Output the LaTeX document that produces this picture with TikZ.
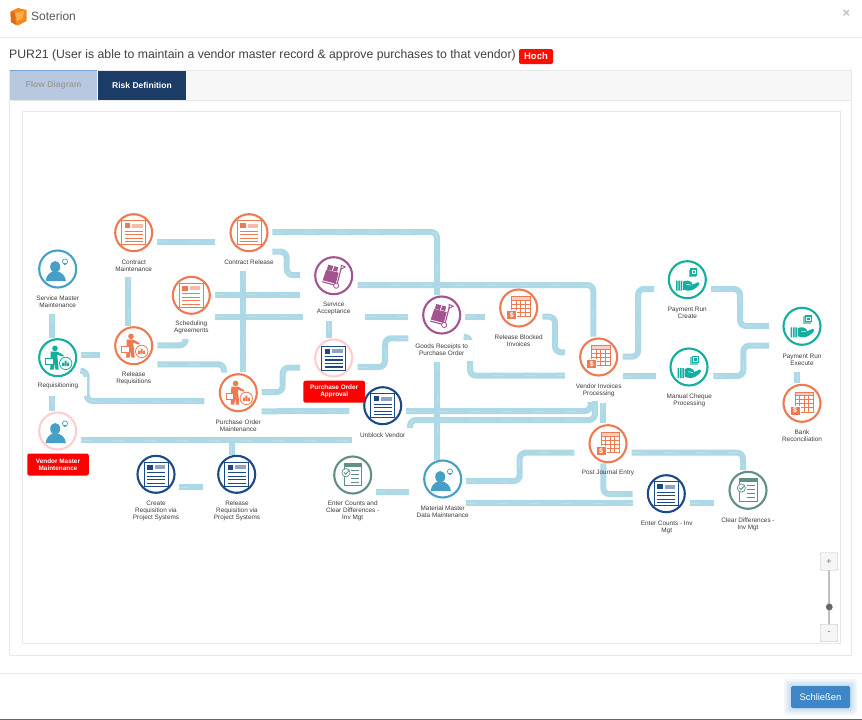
\documentclass[tikz,border=0pt]{standalone}
\usepackage{fontspec}
\setmainfont{Liberation Sans}
\usetikzlibrary{calc}
\pgfdeclarelayer{bg}
\pgfsetlayers{bg,main}
\definecolor{pipec}{RGB}{173,216,230}
\definecolor{orangec}{RGB}{238,122,82}
\definecolor{tealc}{RGB}{18,174,158}
\definecolor{bluec}{RGB}{69,159,198}
\definecolor{navyc}{RGB}{28,74,133}
\definecolor{purplec}{RGB}{163,84,143}
\definecolor{greenc}{RGB}{95,143,133}
\definecolor{pinkc}{RGB}{255,205,205}
\definecolor{labelc}{RGB}{60,60,60}
\definecolor{edgec}{RGB}{232,232,232}
\definecolor{redc}{RGB}{254,0,0}
\definecolor{tabpale}{RGB}{184,200,224}
\definecolor{tabedge}{RGB}{110,165,215}
\definecolor{tabdark}{RGB}{26,60,102}
\definecolor{btnblue}{RGB}{61,135,200}
\definecolor{logoa}{RGB}{245,135,30}
\definecolor{logob}{RGB}{222,105,25}
\definecolor{logoc}{RGB}{252,175,70}
\tikzset{
 x=1pt,y=-1pt,
 pipe/.style={draw=pipec,line width=6pt,rounded corners=6pt,
   postaction={draw=white,draw opacity=.22,line width=1pt,dash pattern=on 10pt off 22pt}},
 ring/.style={circle,line width=2.1pt,minimum size=37pt,inner sep=0pt,fill=white},
 lbl/.style={align=center,text=labelc,font=\fontsize{6.4}{7}\selectfont,inner sep=0pt},
 redlbl/.style={align=center,text=white,fill=redc,rounded corners=2pt,font=\fontsize{6.4}{7}\selectfont\bfseries,inner sep=0pt,minimum width=61.5pt,minimum height=22pt},
 halo/.style={fill=white},
 chrome/.style={draw=edgec,line width=.8pt},
 tabtxt/.style={font=\fontsize{8.5}{11}\selectfont\bfseries,inner sep=0pt},
 zoombtn/.style={draw=black!25,fill=black!4,rounded corners=1pt,minimum size=17.5pt,inner sep=0pt,text=black!55,font=\fontsize{9}{9}\selectfont},
 docicon/.pic={
   \draw[ic,line width=.9pt,fill=white] (-12,-12) rectangle (12,12);
   \fill[ic] (-9,-9.5) rectangle (-3.5,-4.5);
   \fill[ic!50] (-1.5,-9) rectangle (9,-5);
   \foreach \yy in {-1.5,2,5.5,9}{\draw[ic,line width=1.1pt] (-9,\yy) -- (9,\yy);}
 },
 personicon/.pic={
   \fill[ic] (-2.5,-2.2) ellipse (5 and 5.8);
   \fill[ic] (-12,12) .. controls (-11.5,6) and (-8,4) .. (-5,2.4) -- (0,2.4) .. controls (4,4) and (7.5,6) .. (8.2,12) -- cycle;
   \draw[ic,line width=.7pt] (7.3,-7.5) circle (2.6);
   \fill[ic] (6.5,-6.5) rectangle (8.1,-4);
 },
 workericon/.pic={
   \fill[ic] (-2.7,-9.3) circle (2.8);
   \fill[ic] (-7,-6) -- (0,-6) -- (6,-2.5) -- (5.5,-1) -- (-0.5,-3) -- (0.3,4) -- (1,12) -- (-2.3,12) -- (-3,5) -- (-4,12) -- (-7.5,12) -- cycle;
   \draw[ic,line width=.8pt,fill=white] (-12,0.5) rectangle (-4.5,6.5);
   \draw[ic,line width=.8pt,fill=white] (8,5.7) circle (6.2);
   \fill[ic] (4.5,5) rectangle (6.5,8.5) (7,3) rectangle (9,8.5) (9.5,5) rectangle (11.5,8.5);
 },
 carticon/.pic={
   \fill[ic] (-7.5,-6) -- (5,-3) -- (2,8) -- (-11,4.5) -- cycle;
   \fill[ic] (-5.5,-11) -- (-.5,-9.8) -- (-1.8,-5) -- (-6.8,-6.2) -- cycle;
   \fill[ic] (.5,-9.5) -- (4.5,-8.5) -- (3.4,-4) -- (-.7,-5) -- cycle;
   \draw[ic,line width=1.1pt] (-11.5,6) -- (3,10) -- (7.5,-7.5);
   \draw[ic,line width=.9pt] (7.5,-10.5) -- (7.3,-6.5) -- (11.5,-8.8) -- cycle;
   \draw[ic,line width=.8pt,fill=white] (2.5,10) circle (2.6);
 },
 invoiceicon/.pic={
   \draw[ic,line width=.8pt,fill=ic!35] (-7,-11.3) rectangle (11.3,-7.5);
   \draw[ic,line width=.8pt] (-7,-7.5) rectangle (11.3,8.7);
   \foreach \xx in {-2.5,2,6.8}{\draw[ic,line width=.7pt] (\xx,-7.5) -- (\xx,8.7);}
   \foreach \yy in {-3.5,.5,4.5}{\draw[ic,line width=.7pt] (-7,\yy) -- (11.3,\yy);}
   \fill[ic,draw=white,line width=.6pt] (-12,2.5) rectangle (-2,11.6);
   \node[text=white,inner sep=0pt,font=\fontsize{7}{7}\selectfont\bfseries] at (-7,7) {\$};
 },
 handicon/.pic={
   \fill[ic] (-11.3,1) rectangle (-9.8,11) (-9,1) rectangle (-7.5,11) (-6.7,1) rectangle (-5.2,11);
   \fill[ic] (-4.5,2) .. controls (-1,0.5) and (2,0.5) .. (4.5,3) -- (5,5) -- (11,2.5) .. controls (13,3) and (12,5) .. (11,6) .. controls (8,9) and (5,11) .. (1,11) -- (-4.5,10) -- cycle;
   \draw[white,line width=.6pt] (-1,4.8) -- (4,5.4);
   \fill[ic!60] (1.3,-10) rectangle (8.5,-2.5);
   \fill[ic] (2.7,-11.5) rectangle (10,-4);
   \draw[white,line width=.5pt] (4.7,-9.5) rectangle (8,-6);
 },
 checkicon/.pic={
   \draw[ic,line width=.8pt,fill=white] (-8.7,-11.7) rectangle (9,10.7);
   \fill[ic] (-8.7,-11.7) rectangle (9,-8.3);
   \foreach \yy in {-4.5,-.5,3.5,7.5}{\draw[ic,line width=1.1pt] (-1.5,\yy) -- (6.5,\yy);}
   \draw[ic,line width=.7pt,fill=white] (-6.7,-2.3) circle (4.1);
   \draw[ic,line width=.9pt] (-8.8,-2.6) -- (-7,-.7) -- (-3.6,-4.6);
 }
}
\newcommand{\stn}[5]{%
  \node[ring,draw=#4] (#1) at (#2,#3) {};%
  \pic at (#1) {#5};}
\begin{document}
\begin{tikzpicture}
\useasboundingbox (0,0) rectangle (862,720);
% ---------- window frame
\begin{pgfonlayer}{bg}
\fill[white] (0,0) rectangle (862,720);
\coordinate (hl) at (0,37.5); \coordinate (hr) at (862,37.5);
\draw[chrome] (hl) -- (hr);
\draw[chrome,fill=white] (9.5,70.5) rectangle (851,655);
\fill[black!3] (10,71) rectangle (850.5,100);
\draw[chrome] (10,100) -- (850.5,100);
\draw[chrome,fill=white] (22,111) rectangle (840,643);
\draw[chrome] (0,673) -- (862,673);
\fill[black!60] (0,718.7) rectangle (862,720);
\end{pgfonlayer}
\fill[logoa] (10.5,11.5) -- (18,8) -- (26.5,10) -- (26.5,21) -- (18,25.5) -- (11,22) -- cycle;
\fill[logob] (10.5,11.5) -- (15,13) -- (16,25) -- (11,22) -- cycle;
\fill[logoc] (15,13) -- (24,11) -- (22.5,19) -- (17,21) -- cycle;
\node[anchor=west,inner sep=0pt,text=black!65,font=\fontsize{12}{13}\selectfont] (brand) at (31,16) {Soterion};
\node[inner sep=0pt,text=black!25,font=\fontsize{13}{13}\selectfont\bfseries] (closex) at (846.5,13.5) {×};
\node[anchor=west,inner sep=0pt,text=black!75,font=\fontsize{12.25}{15}\selectfont] (title) at (9,55) {PUR21 (User is able to maintain a vendor master record \& approve purchases to that vendor)};
\node[fill=red!90!orange,rounded corners=2pt,text=white,font=\fontsize{9.5}{11}\selectfont\bfseries,minimum width=34pt,minimum height=15pt,inner sep=0pt] (badge) at (536,56.5) {Hoch};
\node[minimum width=87pt,minimum height=28.5pt,inner sep=0pt,fill=tabpale,text=black!38,tabtxt] (tab1) at (53.5,85.3) {Flow Diagram};
\draw[tabedge,line width=.8pt] (tab1.north west) -- (tab1.north east);
\node[minimum width=88pt,minimum height=29pt,inner sep=0pt,fill=tabdark,text=white,tabtxt] (tab2) at (142,85.3) {Risk Definition};
% ---------- stations
\colorlet{ic}{orangec}
\stn{cm}{133.7}{232.7}{orangec}{docicon}
\stn{cr}{249}{232.7}{orangec}{docicon}
\stn{sg}{191.3}{295.3}{orangec}{docicon}
\stn{rr}{133.7}{345.7}{orangec}{workericon}
\stn{po}{238.3}{392.7}{orangec}{workericon}
\stn{rb}{518.7}{308}{orangec}{invoiceicon}
\stn{vi}{598.7}{357}{orangec}{invoiceicon}
\stn{pj}{608}{443.7}{orangec}{invoiceicon}
\stn{br}{802}{403.3}{orangec}{invoiceicon}
\colorlet{ic}{tealc}
\stn{req}{57.7}{357.7}{tealc}{workericon}
\stn{prc}{687.3}{279.7}{tealc}{handicon}
\stn{mc}{689}{367}{tealc}{handicon}
\stn{pre}{802}{326.3}{tealc}{handicon}
\colorlet{ic}{bluec}
\stn{sm}{57.7}{269}{bluec}{personicon}
\stn{vm}{57.7}{431}{pinkc}{personicon}
\stn{mm}{442.7}{479}{bluec}{personicon}
\colorlet{ic}{purplec}
\stn{sv}{333.7}{275.7}{purplec}{carticon}
\stn{gr}{441.7}{315}{purplec}{carticon}
\colorlet{ic}{navyc}
\stn{poa}{333.7}{358}{pinkc}{docicon}
\stn{uv}{382.7}{405.7}{navyc}{docicon}
\stn{cra}{156}{474.3}{navyc}{docicon}
\stn{crb}{236.7}{474.3}{navyc}{docicon}
\stn{eci}{666.3}{493.7}{navyc}{docicon}
\colorlet{ic}{greenc}
\stn{ec}{352.7}{475}{greenc}{checkicon}
\stn{cd}{748}{490.3}{greenc}{checkicon}
% ---------- labels
\node[lbl] (smL) at (57.7,302) {Service Master\\Maintenance};
\node[lbl] (cmL) at (133.7,265.5) {Contract\\Maintenance};
\node[lbl] (crL) at (249,262) {Contract Release};
\node[lbl] (sgL) at (191.3,327.5) {Scheduling\\Agreements};
\node[lbl,halo,minimum width=57pt,minimum height=19pt] (reqL) at (58,386) {Requisitioning};
\node[lbl] (rrL) at (133.7,378) {Release\\Requisitions};
\node[lbl] (poL) at (238.3,425.7) {Purchase Order\\Maintenance};
\node[redlbl] (vmL) at (58,464.5) {Vendor Master\\Maintenance};
\node[lbl] (svL) at (333.7,308.7) {Service\\Acceptance};
\node[lbl,halo,minimum width=62pt,minimum height=21pt] (grL) at (441.7,350) {Goods Receipts to\\Purchase Order};
\node[lbl] (rbL) at (518.7,341) {Release Blocked\\Invoices};
\node[redlbl] (poaL) at (334.2,391.7) {Purchase Order\\Approval};
\node[lbl] (uvL) at (382.7,435.3) {Unblock Vendor};
\node[lbl] (viL) at (598.7,390) {Vendor Invoices\\Processing};
\node[lbl] (prcL) at (687.3,312.7) {Payment Run\\Create};
\node[lbl] (mcL) at (689.3,400) {Manual Cheque\\Processing};
\node[lbl] (preL) at (802,360) {Payment Run\\Execute};
\node[lbl] (brL) at (802,436) {Bank\\Reconciliation};
\node[lbl] (craL) at (156,511) {Create\\Requisition via\\Project Systems};
\node[lbl] (crbL) at (237,511) {Release\\Requisition via\\Project Systems};
\node[lbl] (ecL) at (352.7,511.3) {Enter Counts and\\Clear Differences -\\Inv Mgt};
\node[lbl] (mmL) at (442.7,512) {Material Master\\Data Maintenance};
\node[lbl] (pjL) at (608,473.3) {Post Journal Entry};
\node[lbl] (eciL) at (666.7,527.3) {Enter Counts - Inv\\Mgt};
\node[lbl] (cdL) at (748,524) {Clear Differences -\\Inv Mgt};
% ---------- zoom control, button
\draw[black!25,line width=1.6pt] (829,565) -- (829,630);
\node[zoombtn] (zin) at (829,561.5) {+};
\node[zoombtn] (zout) at (829,633) {-};
\fill[black!60] (829.3,607) circle (3.4);
\foreach \gg in {7,5.5,4,2.5,1}{\fill[btnblue,opacity=.06,rounded corners=3pt] (791-\gg,686-\gg) rectangle (850+\gg,708+\gg);}
\node[fill=btnblue,rounded corners=1.5pt,text=white,minimum width=59pt,minimum height=22pt,inner sep=0pt,font=\fontsize{9.4}{11}\selectfont] (closeb) at (820.5,697) {Schließen};
% ---------- pipes
\begin{pgfonlayer}{bg}
\draw[pipe] ($(cm)+(23.6,9)$) -- ($(cr)+(-34,9)$);
\draw[pipe] ($(cm)+(-5.4,44.3)$) -- ($(rr)+(-5.4,-19.7)$);
\draw[pipe] ($(cr)+(23.3,-.7)$) -| ($(gr)+(-4.7,-20)$);
\draw[pipe] ($(gr)+(-4.7,47)$) -- ($(mm)+(-5.7,-19)$);
\draw[pipe] ($(cr)+(23.3,19)$) -- ++(14.4,0) |- ($(sv)+(-33.7,-.7)$);
\draw[pipe] ($(cr)+(-5.7,38.3)$) -- ($(po)+(5,-21)$);
\draw[pipe] ($(sg)+(23.7,-.6)$) -- ($(sv)+(-33.7,19)$);
\draw[pipe] ($(sg)+(23.7,21.4)$) -- ($(sv)+(-30.4,41)$);
\draw[pipe] ($(sv)+(31.3,41)$) -- ($(gr)+(-33.7,1.7)$);
\draw[pipe] ($(gr)+(23.3,1.7)$) -- ($(rb)+(-33.7,8.7)$);
\draw[pipe] ($(rr)+(23.6,-.4)$) -| ($(sg)+(-5.6,44.7)$);
\draw[pipe] ($(rr)+(23.6,18.6)$) -| ($(po)+(-14.3,-20)$);
\draw[pipe] ($(req)+(23.3,-3)$) -- ($(rr)+(-33.7,9)$);
\draw[pipe] ($(req)+(23.3,13)$) -- ++(5.7,0) |- ($(po)+(-34,8.3)$);
\draw[pipe] ($(sm)+(-5.4,45)$) -- ($(req)+(-5.4,-19.4)$);
\draw[pipe] ($(req)+(-5.4,38)$) -- ($(vm)+(-5.4,-20)$);
\draw[pipe] ($(vm)+(23.3,9)$) -- ($(uv)+(-31,34.3)$);
\draw[pipe] ($(crb)+(-5,-19.3)$) -- ($(crb)+(-5,-34.3)$);
\draw[pipe] ($(cra)+(23.3,12.7)$) -- ($(crb)+(-33.4,12.7)$);
\draw[pipe] ($(po)+(23.4,-.7)$) -- ++(21,0) |- ($(poa)+(-33.7,9.7)$);
\draw[pipe] ($(po)+(23.4,18.6)$) -- ($(uv)+(-33.4,5.3)$);
\draw[pipe] ($(sv)+(-5,45)$) -- ($(poa)+(-5,-20)$);
\draw[pipe] ($(poa)+(24,9)$) -- ++(27.3,0) |- ($(gr)+(-33.4,23.3)$);
\draw[pipe] ($(sv)+(24,9.3)$) -| ($(vi)+(-5.4,-20.3)$);
\draw[pipe] ($(rb)+(23.6,8.7)$) -- ++(12.7,0) |- ($(vi)+(-33.7,-4.7)$);
\draw[pipe] ($(gr)+(23.3,21.7)$) -- ++(5,0) |- ($(vi)+(-33.7,18.7)$);
\draw[pipe] ($(uv)+(23.3,5.3)$) -| ($(vi)+(-8,45)$);
\draw[pipe] ($(uv)+(27.3,22.3)$) -- ++(0,-8) -| ($(vi)+(-3.7,44)$);
\draw[pipe] ($(vi)+(4,46)$) -- ($(pj)+(-5.3,-20.7)$);
\draw[pipe] ($(mm)+(23.3,2)$) -- ++(53.7,0) |- ($(pj)+(-33.7,9)$);
\draw[pipe] ($(mm)+(23.3,24.3)$) -- ($(eci)+(-33.6,9.6)$);
\draw[pipe] ($(pj)+(23.7,9)$) -| ($(cd)+(-5,-20.3)$);
\draw[pipe] ($(pj)+(-4.7,19.6)$) |- ($(eci)+(-33.6,.3)$);
\draw[pipe] ($(eci)+(23.7,9.6)$) -- ($(cd)+(-34,13)$);
\draw[pipe] ($(ec)+(23.3,16.7)$) -- ($(mm)+(-33.4,12.7)$);
\draw[pipe] ($(vi)+(24,-.3)$) -- ++(15.3,0) |- ($(prc)+(-33.3,9.3)$);
\draw[pipe] ($(vi)+(24,19)$) -- ($(mc)+(-33,9)$);
\draw[pipe] ($(prc)+(23.7,9.3)$) -- ++(29,0) |- ($(pre)+(-33,-.3)$);
\draw[pipe] ($(mc)+(24.3,9)$) -- ++(30,0) |- ($(pre)+(-33,19.4)$);
\draw[pipe] ($(pre)+(-5,45.4)$) -- ($(br)+(-5,-20)$);
\end{pgfonlayer}
\end{tikzpicture}
\end{document}
